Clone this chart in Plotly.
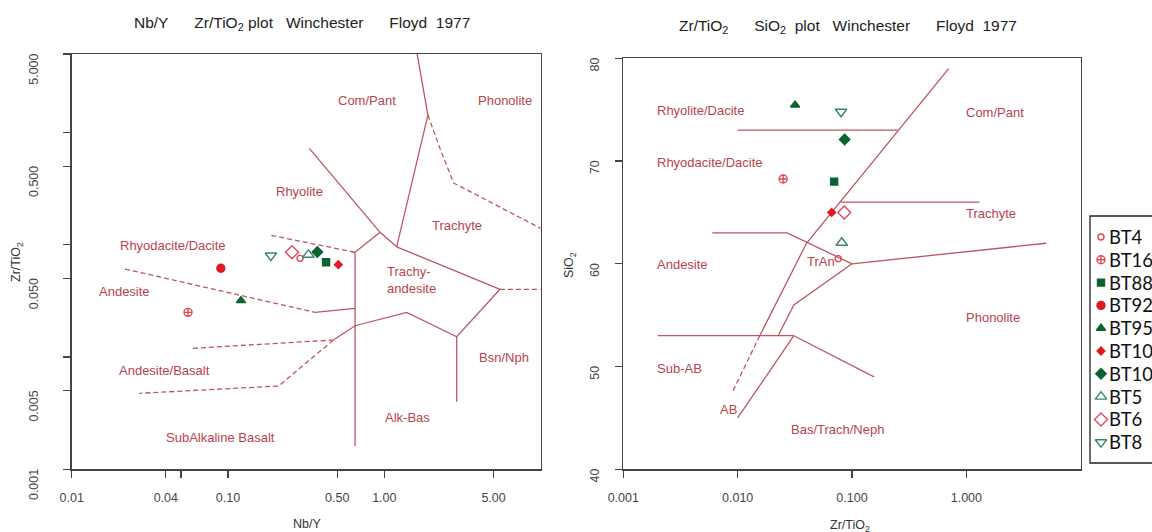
import math
import plotly.graph_objects as go

# ---------------- sample data ----------------
samples = ["BT4", "BT16", "BT88", "BT92", "BT95", "BT101", "BT102", "BT5", "BT6", "BT8"]
nb_y    = [0.289, 0.0555, 0.424, 0.090, 0.121, 0.508, 0.373, 0.327, 0.257, 0.188]
zr_tio2 = [0.0757, 0.0250, 0.0698, 0.0617, 0.0318, 0.0664, 0.0862, 0.0814, 0.0856, 0.0802]
sio2    = [60.5, 68.25, 68.0, None, 75.45, 65.0, 72.1, 62.05, 65.0, 74.8]

# ---------------- field boundaries: Nb/Y vs Zr/TiO2 ----------------
left_solid = [
    [(1.622, 5.0), (1.901, 1.429), (1.20, 0.0959)],
    [(0.3313, 0.722), (0.939, 0.129), (1.20, 0.0959)],
    [(0.939, 0.129), (0.65, 0.0856)],
    [(1.20, 0.0959), (5.50, 0.0401)],
    [(5.50, 0.0401), (2.906, 0.01517), (1.391, 0.025), (0.65, 0.019), (0.472, 0.01417)],
    [(0.65, 0.0856), (0.65, 0.00161)],
    [(2.906, 0.01517), (2.906, 0.004)],
    [(0.3603, 0.025), (0.65, 0.02715)],
]
left_dashed = [
    [(0.1895, 0.1213), (0.65, 0.0856)],
    [(0.02193, 0.0608), (0.3603, 0.025)],
    [(0.0596, 0.01196), (0.472, 0.01417)],
    [(0.472, 0.01417), (0.2108, 0.00552), (0.02707, 0.00475)],
    [(5.50, 0.0401), (10.0, 0.0401)],
    [(1.901, 1.429), (2.249, 0.746), (2.776, 0.355), (10.0, 0.14)],
]
left_label_text = ["Com/Pant", "Phonolite", "Rhyolite", "Trachyte", "Rhyodacite/Dacite",
                   "Andesite", "Bsn/Nph", "Andesite/Basalt", "Alk-Bas", "SubAlkaline Basalt"]
left_label_x = [0.774, 5.955, 0.286, 2.923, 0.0446, 0.0217, 5.8, 0.0395, 1.399, 0.0898]
left_label_y = [1.915, 1.915, 0.2965, 0.1489, 0.098, 0.0382, 0.00994, 0.00766, 0.00288, 0.00191]
trachy_label = ("Trachy-<br>andesite", 1.01, 0.0485)

# ---------------- field boundaries: Zr/TiO2 vs SiO2 ----------------
right_solid = [
    [(0.70, 79.0), (0.040, 62.0), (0.0156, 53.0)],
    [(0.010, 73.0), (0.25, 73.0)],
    [(0.08, 66.0), (1.3, 66.0)],
    [(0.006, 63.0), (0.0271, 63.0), (0.10, 60.0)],
    [(0.10, 60.0), (5.0, 62.0)],
    [(0.10, 60.0), (0.031, 56.0), (0.0226, 53.0)],
    [(0.002, 53.0), (0.031, 53.0)],
    [(0.031, 53.0), (0.156, 49.0)],
    [(0.031, 53.0), (0.010, 45.0)],
]
right_dashed = [
    [(0.0156, 53.0), (0.0089, 47.4)],
]
right_label_text = ["Rhyolite/Dacite", "Com/Pant", "Rhyodacite/Dacite", "Trachyte", "Andesite",
                    "TrAn", "Phonolite", "Sub-AB", "AB", "Bas/Trach/Neph"]
right_label_x = [0.00471, 1.786, 0.00568, 1.647, 0.00332, 0.0531, 1.726, 0.0031, 0.00824, 0.0751]
right_label_y = [74.9, 74.7, 69.9, 64.9, 59.9, 60.2, 54.8, 49.8, 45.8, 43.9]

# ---------------- axis ticks ----------------
left_x_ticks = [0.01, 0.04, 0.05, 0.1, 0.5, 1, 5]
left_x_text = ["0.01", "0.04", "", "0.10", "0.50", "1.00", "5.00"]
left_y_ticks = [0.001, 0.005, 0.01, 0.05, 0.1, 0.5, 1, 5]
left_y_text = ["0.001", "0.005", "", "0.050", "", "0.500", "", "5.000"]
right_x_ticks = [0.001, 0.01, 0.1, 1]
right_x_text = ["0.001", "0.010", "0.100", "1.000"]
right_y_ticks = [40, 50, 60, 70, 80]
right_y_text = ["40", "50", "60", "70", "80"]

# ---------------- styles ----------------
W, H = 1152, 532
RED = "#DE1A22"
RED_O = "#DE4A55"
GREEN = "#0B6332"
GREEN_O = "#358866"
LINE_C = "#BC5661"
LABEL_C = "#B8434F"
FONT = "Liberation Sans, Arial, sans-serif"

marker_symbols = ["circle-open", "circle-cross-open", "square", "circle", "triangle-up",
                  "diamond", "diamond", "triangle-up-open", "diamond-open", "triangle-down-open"]
marker_colors = [RED_O, RED_O, GREEN, RED, GREEN, RED, GREEN, GREEN_O, RED_O, GREEN_O]
marker_sizes = [6, 8, 7, 8, 8, 6, 8, 10, 10, 10]

fig = go.Figure()


def add_lines(segs, xa, ya, dash):
    for seg in segs:
        fig.add_trace(go.Scatter(
            x=[p[0] for p in seg], y=[p[1] for p in seg], xaxis=xa, yaxis=ya,
            mode="lines", line=dict(color=LINE_C, width=1.3, dash=dash),
            showlegend=False, hoverinfo="skip"))


add_lines(left_solid, "x", "y", "solid")
add_lines(left_dashed, "x", "y", "5px,3px")
add_lines(right_solid, "x2", "y2", "solid")
add_lines(right_dashed, "x2", "y2", "5px,3px")

marker = dict(symbol=marker_symbols, color=marker_colors, size=marker_sizes, opacity=1,
              line=dict(color=marker_colors, width=1.4))
fig.add_trace(go.Scatter(x=nb_y, y=zr_tio2, xaxis="x", yaxis="y", mode="markers",
                         marker=marker, text=samples, showlegend=False))
fig.add_trace(go.Scatter(x=zr_tio2, y=sio2, xaxis="x2", yaxis="y2", mode="markers",
                         marker=marker, text=samples, showlegend=False))

# ---------------- manual legend (pixel-coordinate overlay axes) ----------------
leg_left, leg_top, leg_bottom = 1090, 216, 463
leg_first, leg_step = 237, 22.8
leg_y = [leg_first + i * leg_step for i in range(len(samples))]
fig.add_trace(go.Scatter(x=[leg_left + 11] * len(samples), y=leg_y, xaxis="x3", yaxis="y3",
                         mode="markers", marker=marker, showlegend=False, hoverinfo="skip"))

annotations = []
for i, s in enumerate(samples):
    annotations.append(dict(x=leg_left + 17, y=leg_y[i], xref="x3", yref="y3", text=s,
                            showarrow=False, xanchor="left", yanchor="middle",
                            font=dict(family="Lato, sans-serif", size=18.5, color="#111")))

for t, x, y in zip(left_label_text, left_label_x, left_label_y):
    annotations.append(dict(x=math.log10(x), y=math.log10(y), xref="x", yref="y", text=t,
                            showarrow=False, xanchor="center",
                            font=dict(family=FONT, size=13, color=LABEL_C)))
annotations.append(dict(x=math.log10(trachy_label[1]), y=math.log10(trachy_label[2]), xref="x",
                        yref="y", text=trachy_label[0], showarrow=False, xanchor="left",
                        align="left", font=dict(family=FONT, size=13, color=LABEL_C)))
for t, x, y in zip(right_label_text, right_label_x, right_label_y):
    annotations.append(dict(x=math.log10(x), y=y, xref="x2", yref="y2", text=t,
                            showarrow=False, xanchor="center",
                            font=dict(family=FONT, size=13, color=LABEL_C)))

NB = "\u00a0"
title_font = dict(family=FONT, size=15.5, color="#222")
left_title = ("Nb/Y" + NB * 6 + "Zr/TiO<sub>2</sub>" + NB + "plot" + NB * 3 + "Winchester"
              + NB * 6 + "Floyd" + NB * 2 + "1977")
right_title = ("Zr/TiO<sub>2</sub>" + NB * 6 + "SiO<sub>2</sub>" + NB * 2 + "plot" + NB * 3
               + "Winchester" + NB * 6 + "Floyd" + NB * 2 + "1977")
annotations.append(dict(x=302 / W, y=1 - 23 / H, xref="paper", yref="paper", text=left_title,
                        showarrow=False, xanchor="center", yanchor="middle", font=title_font))
annotations.append(dict(x=848 / W, y=1 - 27 / H, xref="paper", yref="paper", text=right_title,
                        showarrow=False, xanchor="center", yanchor="middle", font=title_font))

axis_title_font = dict(family=FONT, size=12.5, color="#333")
annotations.append(dict(x=307 / W, y=1 - 524 / H, xref="paper", yref="paper", text="Nb/Y",
                        showarrow=False, xanchor="center", yanchor="middle",
                        font=axis_title_font))
annotations.append(dict(x=850 / W, y=1 - 526 / H, xref="paper", yref="paper",
                        text="Zr/TiO<sub>2</sub>", showarrow=False, xanchor="center",
                        yanchor="middle", font=axis_title_font))
annotations.append(dict(x=17 / W, y=1 - 262 / H, xref="paper", yref="paper",
                        text="Zr/TiO<sub>2</sub>", textangle=-90, showarrow=False,
                        xanchor="center", yanchor="middle", font=axis_title_font))
annotations.append(dict(x=570 / W, y=1 - 265 / H, xref="paper", yref="paper",
                        text="SiO<sub>2</sub>", textangle=-90, showarrow=False,
                        xanchor="center", yanchor="middle", font=axis_title_font))

shapes = [dict(type="rect", xref="paper", yref="paper", x0=leg_left / W, x1=1.05,
               y0=1 - leg_bottom / H, y1=1 - leg_top / H,
               line=dict(color="#222", width=1.3), fillcolor="rgba(0,0,0,0)")]

tick_font = dict(family=FONT, size=12.5, color="#444")
common = dict(showgrid=False, zeroline=False, showline=True, mirror=True, linecolor="#444",
              linewidth=1.3, ticks="outside", ticklen=7, tickcolor="#444", tickwidth=1.2,
              tickfont=tick_font, tickmode="array")

fig.update_layout(
    width=W, height=H, margin=dict(l=0, r=0, t=0, b=0, autoexpand=False),
    paper_bgcolor="white", plot_bgcolor="rgba(0,0,0,0)", showlegend=False, hovermode=False,
    xaxis=dict(type="log", range=[-2, 1], domain=[71.7 / W, 540.6 / W], anchor="y",
               tickvals=left_x_ticks, ticktext=left_x_text, ticklabelstandoff=9, **common),
    yaxis=dict(type="log", range=[-3, math.log10(5)], domain=[1 - 469.3 / H, 1 - 54 / H],
               anchor="x", tickvals=left_y_ticks, ticktext=left_y_text, tickangle=-90,
               ticklabelstandoff=20, ticklabelshift=17, **common),
    xaxis2=dict(type="log", range=[-3, 1], domain=[623.3 / W, 1080.7 / W], anchor="y2",
                tickvals=right_x_ticks, ticktext=right_x_text, ticklabelstandoff=9, **common),
    yaxis2=dict(range=[40, 80], domain=[1 - 469.3 / H, 1 - 58.3 / H], anchor="x2",
                tickvals=right_y_ticks, ticktext=right_y_text, tickangle=-90,
                ticklabelstandoff=11, ticklabelshift=8, **common),
    xaxis3=dict(range=[0, W], domain=[0, 1], anchor="y3", visible=False, fixedrange=True),
    yaxis3=dict(range=[H, 0], domain=[0, 1], anchor="x3", visible=False, fixedrange=True),
    annotations=annotations, shapes=shapes,
)

fig.write_html("out.html", config={"displayModeBar": False, "staticPlot": True},
               post_script="document.body.style.margin='0px';"
                           "document.body.style.overflow='hidden';")
